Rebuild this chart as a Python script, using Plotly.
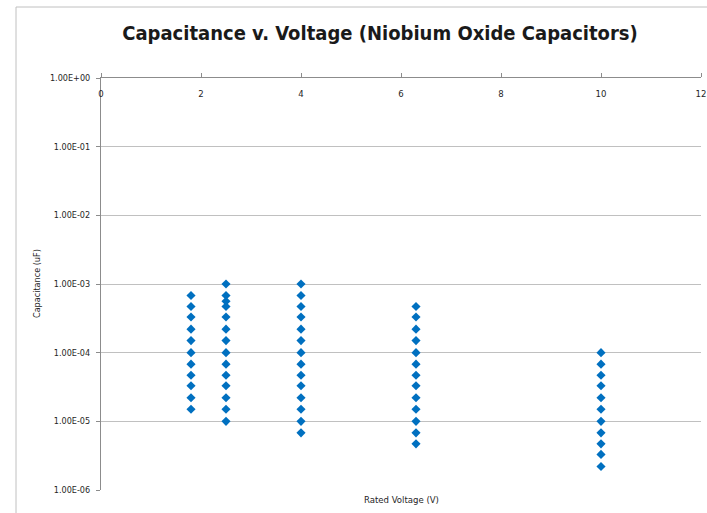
import plotly.graph_objects as go

# Data: rated voltage (V) and capacitance (uF)
v_1_8 = [6.8e-4, 4.7e-4, 3.3e-4, 2.2e-4, 1.5e-4, 1.0e-4, 6.8e-5, 4.7e-5, 3.3e-5, 2.2e-5, 1.5e-5]
v_2_5 = [1.0e-3, 6.8e-4, 5.6e-4, 4.7e-4, 3.3e-4, 2.2e-4, 1.5e-4, 1.0e-4, 6.8e-5, 4.7e-5, 3.3e-5, 2.2e-5, 1.5e-5, 1.0e-5]
v_4_0 = [1.0e-3, 6.8e-4, 4.7e-4, 3.3e-4, 2.2e-4, 1.5e-4, 1.0e-4, 6.8e-5, 4.7e-5, 3.3e-5, 2.2e-5, 1.5e-5, 1.0e-5, 6.8e-6]
v_6_3 = [4.7e-4, 3.3e-4, 2.2e-4, 1.5e-4, 1.0e-4, 6.8e-5, 4.7e-5, 3.3e-5, 2.2e-5, 1.5e-5, 1.0e-5, 6.8e-6, 4.7e-6]
v_10 = [1.0e-4, 6.8e-5, 4.7e-5, 3.3e-5, 2.2e-5, 1.5e-5, 1.0e-5, 6.8e-6, 4.7e-6, 3.3e-6, 2.2e-6]

voltages = [1.8, 2.5, 4.0, 6.3, 10.0]
groups = [v_1_8, v_2_5, v_4_0, v_6_3, v_10]

x_vals = []
y_vals = []
for v, g in zip(voltages, groups):
    x_vals += [v] * len(g)
    y_vals += g

x_ticks = [0, 2, 4, 6, 8, 10, 12]
y_ticks = [1e-6, 1e-5, 1e-4, 1e-3, 1e-2, 1e-1, 1e0]
y_tick_text = ["1.00E-06", "1.00E-05", "1.00E-04", "1.00E-03", "1.00E-02", "1.00E-01", "1.00E+00"]

FONT = "DejaVu Sans Condensed, Liberation Sans, sans-serif"
AXIS_GREY = "#8c8c8c"
GRID_GREY = "#c0c0c0"
TXT = "#1f1f1f"

fig = go.Figure()
fig.add_trace(go.Scatter(
    x=x_vals, y=y_vals, mode="markers",
    marker=dict(symbol="diamond", size=7, color="#0070C0", line=dict(width=0)),
    showlegend=False,
))
# invisible helper trace to drive the secondary x axis (tick labels under the top axis line)
fig.add_trace(go.Scatter(x=[x_ticks[0], x_ticks[-1]], y=[None, None], xaxis="x2",
                         mode="markers", showlegend=False, hoverinfo="skip"))

fig.update_layout(
    width=707, height=513,
    margin=dict(l=101, r=6, t=78, b=23, autoexpand=False),
    paper_bgcolor="white", plot_bgcolor="white",
    font=dict(family=FONT, size=9, color=TXT),
    title=dict(
        text="<b>Capacitance v. Voltage (Niobium Oxide Capacitors)</b>",
        x=380 / 707, xanchor="center", y=1 - 33 / 513, yanchor="middle",
        font=dict(family=FONT, size=20, color="#1a1a1a"),
    ),
    xaxis=dict(
        range=[0, 12], side="top", tickvals=x_ticks, showticklabels=False,
        ticks="outside", ticklen=4, tickcolor=AXIS_GREY,
        showline=True, linecolor=AXIS_GREY, linewidth=1,
        showgrid=False, zeroline=False, automargin=False,
    ),
    xaxis2=dict(
        range=[0, 12], overlaying="x", side="bottom", anchor="free", position=1,
        tickvals=x_ticks, ticks="", showline=False, showgrid=False, zeroline=False,
        ticklabelstandoff=8, automargin=False,
        tickfont=dict(family=FONT, size=9.5, color=TXT),
    ),
    yaxis=dict(
        type="log", range=[-6, 0], tickvals=y_ticks, ticktext=y_tick_text,
        ticks="outside", ticklen=4, tickcolor=AXIS_GREY,
        ticklabelstandoff=4, automargin=False,
        showline=True, linecolor=AXIS_GREY, linewidth=1,
        showgrid=True, gridcolor=GRID_GREY, gridwidth=1, zeroline=False,
        tickfont=dict(family=FONT, size=9, color=TXT),
    ),
    annotations=[
        dict(text="Rated Voltage (V)", xref="paper", yref="paper",
             x=0.5, y=-9 / 412, xanchor="center", yanchor="middle",
             showarrow=False, font=dict(family=FONT, size=9.5, color=TXT)),
        dict(text="Capacitance (uF)", xref="paper", yref="paper",
             x=(37 - 101) / 600, y=(490 - 284) / 412, xanchor="center", yanchor="middle",
             textangle=-90, showarrow=False,
             font=dict(family=FONT, size=9, color=TXT)),
    ],
    shapes=[
        dict(type="rect", xref="paper", yref="paper",
             x0=(16 - 101) / 600, x1=1.2, y0=-0.2, y1=(490 - 7) / 412,
             line=dict(color=GRID_GREY, width=1), fillcolor="rgba(0,0,0,0)",
             layer="below"),
    ],
)

fig.write_html(
    "out.html",
    config={"displayModeBar": False},
    post_script="document.body.style.margin='0';document.body.style.padding='0';",
)
